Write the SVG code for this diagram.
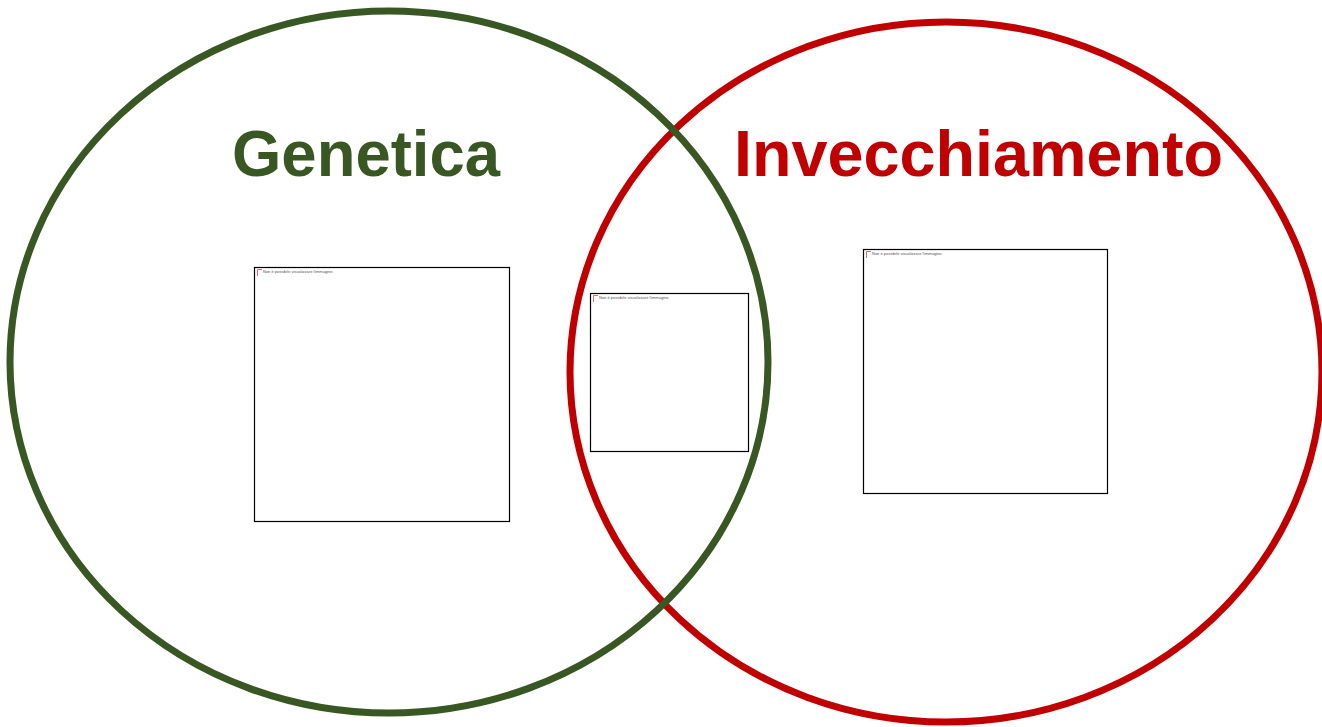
<svg xmlns="http://www.w3.org/2000/svg" width="1322" height="727" viewBox="0 0 1322 727">
<style>
.title{font-family:"Liberation Sans",Arial,sans-serif;font-weight:bold;font-size:64px}
.box{fill:#fff;stroke:#000;stroke-width:1.2}
.msg{font-family:"Liberation Sans",Arial,sans-serif;font-size:4px;fill:#555}
.ico{fill:none;stroke:#c05050;stroke-width:0.8}
</style>
<rect width="1322" height="727" fill="#fff"/>
<g id="aging-circle">
<ellipse cx="946" cy="372" rx="376" ry="350" fill="none" stroke="#c00000" stroke-width="7"/>
</g>
<g id="genetics-circle">
<ellipse cx="389" cy="362" rx="379" ry="351" fill="none" stroke="#385723" stroke-width="7"/>
</g>
<g id="genetics-label">
<text class="title" x="232" y="176" fill="#385723" textLength="268" lengthAdjust="spacingAndGlyphs">Genetica</text>
</g>
<g id="aging-label">
<text class="title" x="734" y="176" fill="#c00000" textLength="489" lengthAdjust="spacingAndGlyphs">Invecchiamento</text>
</g>
<g id="image-genetics">
<rect class="box" x="254.5" y="267.5" width="255" height="254"/>
<path class="ico" d="M257.5 276 V269.5 H262"/>
<text class="msg" x="263" y="273">Non è possibile visualizzare l'immagine.</text>
</g>
<g id="image-overlap">
<rect class="box" x="590.5" y="293.5" width="158" height="158"/>
<path class="ico" d="M593.5 302 V295.5 H598"/>
<text class="msg" x="599" y="299">Non è possibile visualizzare l'immagine.</text>
</g>
<g id="image-aging">
<rect class="box" x="863.5" y="249.5" width="244" height="244"/>
<path class="ico" d="M866.5 258 V251.5 H871"/>
<text class="msg" x="872" y="255">Non è possibile visualizzare l'immagine.</text>
</g>
</svg>
